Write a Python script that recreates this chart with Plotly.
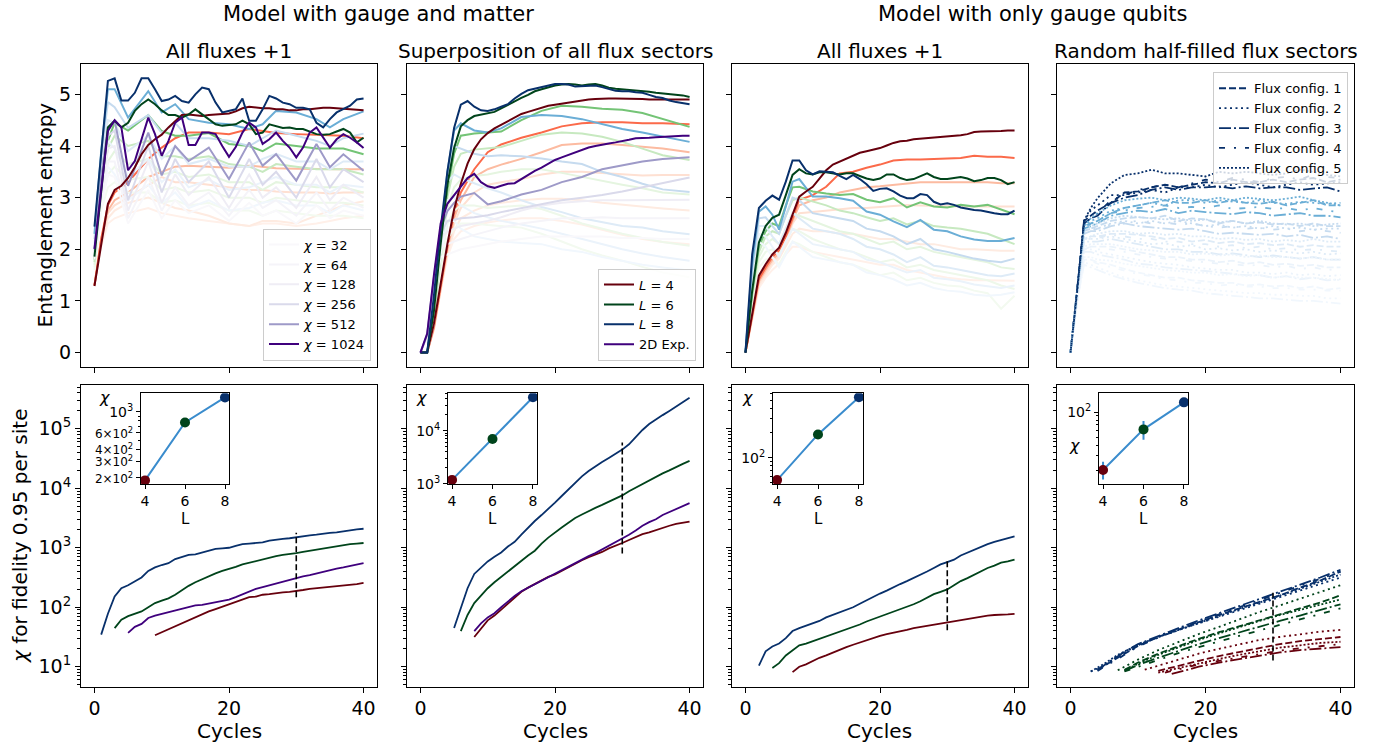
import plotly.graph_objects as go

W, H = 1390, 751
FONT = "DejaVu Sans"


def pxx(p):
    return p / W


def pxy(p):
    return 1 - p / H


# ---------------------------------------------------------------- data
CYCLES = list(range(41))
CHI = [32, 64, 128, 256, 512, 1024]
L_SIZES = [4, 6, 8]
FLUX_CONFIGS = [1, 2, 3, 4, 5]

# colour for chi = 32 ... 1024
REDS = ["#fff0e9", "#feebe1", "#fee0d2", "#fcbba1", "#fb6a4a", "#67000d"]
GREENS = ["#f3faf0", "#eef8ea", "#e5f5e0", "#c7e9c0", "#74c476", "#00441b"]
BLUES = ["#f1f7fd", "#ebf3fb", "#deebf7", "#c6dbef", "#6baed6", "#08306b"]
PURPLES = ["#f9f8fb", "#f5f4f9", "#efedf5", "#dadaeb", "#9e9ac8", "#3f007d"]
INSET_LINE = "#3a8ccd"

# ---- panel 1 (gauge + matter, all fluxes +1): entanglement entropy
X1 = [0, 1, 2, 3, 5, 8, 10, 12, 14, 17, 20, 23, 25, 27, 30, 33, 35, 37, 40]
P1_RED = [  # chi = 32, 64, 128, 256, 512 on X1
    [1.3, 2.05, 2.5, 2.6, 2.7, 2.8, 2.7, 2.65, 2.6, 2.55, 2.5, 2.45, 2.5, 2.5, 2.45, 2.5, 2.55, 2.6, 2.65],
    [1.3, 2.1, 2.6, 2.75, 2.9, 3.0, 2.9, 2.8, 2.75, 2.65, 2.5, 2.45, 2.55, 2.55, 2.5, 2.65, 2.75, 2.85, 2.93],
    [1.3, 2.15, 2.7, 2.85, 3.0, 3.25, 3.4, 3.3, 3.3, 3.25, 3.2, 3.15, 3.15, 3.12, 3.1, 3.1, 3.08, 3.1, 3.1],
    [1.3, 2.2, 2.75, 2.95, 3.1, 3.4, 3.5, 3.6, 3.62, 3.6, 3.58, 3.62, 3.6, 3.57, 3.56, 3.55, 3.55, 3.55, 3.55],
    [1.3, 2.2, 2.85, 3.1, 3.3, 3.75, 3.97, 4.15, 4.26, 4.26, 4.23, 4.33, 4.29, 4.25, 4.23, 4.22, 4.22, 4.2, 4.15],
]
P1_GREEN = [
    [1.6, 2.75, 3.2, 3.3, 3.1, 3.1, 2.9, 2.95, 2.85, 2.9, 2.75, 2.75, 2.65, 2.75, 2.7, 2.65, 2.65, 2.65, 2.6],
    [1.65, 2.9, 3.45, 3.6, 3.35, 3.4, 3.15, 3.2, 3.1, 3.15, 3.0, 3.0, 2.9, 3.0, 2.95, 2.9, 2.9, 2.9, 2.85],
    [1.7, 3.0, 3.7, 3.9, 3.65, 3.75, 3.45, 3.5, 3.4, 3.45, 3.3, 3.3, 3.15, 3.3, 3.25, 3.2, 3.2, 3.2, 3.1],
    [1.75, 3.2, 3.95, 4.2, 4.0, 4.1, 3.8, 3.8, 3.75, 3.8, 3.65, 3.6, 3.5, 3.65, 3.6, 3.55, 3.55, 3.55, 3.45],
    [1.8, 3.3, 4.1, 4.45, 4.3, 4.6, 4.29, 4.2, 4.2, 4.25, 4.04, 4.0, 3.9, 4.05, 4.0, 3.95, 3.95, 3.95, 3.84],
]
P1_BLUE = [
    [1.9, 3.0, 3.6, 3.45, 2.95, 3.25, 2.9, 3.1, 2.8, 2.95, 2.75, 2.8, 2.9, 2.95, 2.85, 2.85, 2.7, 2.85, 2.75],
    [2.0, 3.3, 4.1, 3.95, 3.4, 3.75, 3.3, 3.55, 3.2, 3.35, 3.15, 3.2, 3.3, 3.4, 3.25, 3.25, 3.1, 3.25, 3.2],
    [2.1, 3.6, 4.5, 4.45, 3.9, 4.2, 3.75, 4.0, 3.65, 3.75, 3.6, 3.6, 3.75, 3.85, 3.7, 3.7, 3.55, 3.7, 3.7],
    [2.2, 3.8, 4.85, 4.75, 4.35, 4.6, 4.25, 4.45, 4.15, 4.15, 4.1, 4.0, 4.15, 4.3, 4.2, 4.1, 4.0, 4.15, 4.24],
    [2.3, 3.9, 5.1, 5.1, 4.55, 5.06, 4.65, 4.81, 4.52, 4.45, 4.42, 4.33, 4.42, 4.68, 4.65, 4.52, 4.36, 4.52, 4.67],
]
P1_PURPLE = [
    [1.8, 2.8, 3.45, 3.4, 2.5, 3.15, 2.6, 2.95, 2.7, 2.85, 2.55, 2.9, 2.65, 2.75, 2.5, 2.85, 2.6, 2.75, 2.65],
    [1.85, 2.95, 3.7, 3.7, 2.6, 3.4, 2.75, 3.2, 2.85, 3.1, 2.65, 3.15, 2.8, 2.95, 2.65, 3.1, 2.75, 3.0, 2.8],
    [1.9, 3.1, 3.95, 4.0, 2.75, 3.7, 2.9, 3.45, 3.05, 3.4, 2.8, 3.45, 3.0, 3.2, 2.8, 3.4, 2.95, 3.25, 3.0],
    [1.95, 3.3, 4.2, 4.3, 2.95, 4.0, 3.1, 3.75, 3.3, 3.7, 3.0, 3.75, 3.25, 3.5, 3.0, 3.75, 3.2, 3.55, 3.3],
    [2.0, 3.4, 4.36, 4.49, 3.23, 4.26, 3.43, 4.0, 3.71, 3.97, 3.36, 4.07, 3.62, 3.84, 3.33, 4.04, 3.59, 3.84, 3.52],
]
P1_RED_1024 = [1.29, 2.08, 2.88, 3.15, 3.23, 3.38, 3.59, 3.84, 4.02, 4.13, 4.22, 4.36, 4.49, 4.6, 4.61,
               4.6, 4.58, 4.6, 4.61, 4.61, 4.63, 4.67, 4.73, 4.76, 4.74, 4.73, 4.73, 4.71, 4.71, 4.69,
               4.69, 4.71, 4.71, 4.73, 4.74, 4.74, 4.73, 4.71, 4.71, 4.69, 4.69]
P1_GREEN_1024 = [1.86, 3.11, 4.36, 4.49, 4.36, 4.45, 4.68, 4.81, 4.9, 4.81, 4.69, 4.6, 4.6, 4.55, 4.61,
                 4.71, 4.61, 4.52, 4.42, 4.39, 4.41, 4.42, 4.49, 4.42, 4.23, 4.26, 4.42, 4.39, 4.35, 4.36,
                 4.33, 4.33, 4.28, 4.23, 4.22, 4.23, 4.28, 4.33, 4.26, 4.07, 4.16]
P1_BLUE_1024 = [2.44, 3.85, 5.26, 5.31, 4.88, 4.88, 5.03, 5.31, 5.31, 5.1, 4.87, 4.9, 4.97, 4.87, 4.84,
                5.0, 5.13, 5.1, 4.84, 4.65, 4.68, 4.71, 4.92, 4.49, 4.49, 4.71, 4.97, 4.92, 4.84, 4.81,
                4.74, 4.74, 4.71, 4.45, 4.36, 4.52, 4.65, 4.71, 4.78, 4.9, 4.92]
P1_PURPLE_1024 = [2.01, 3.15, 4.29, 4.5, 4.36, 3.53, 3.71, 4.13, 4.55, 4.23, 3.81, 4.1, 4.45, 4.55, 4.02,
                  4.02, 4.26, 4.26, 4.23, 4.0, 3.79, 3.98, 4.26, 4.45, 4.36, 4.04, 4.13, 4.26, 4.1, 3.97,
                  3.78, 3.97, 4.26, 4.36, 4.16, 3.97, 4.13, 4.23, 4.16, 4.07, 3.96]

# ---- panel 2 (gauge + matter, superposition of all flux sectors)
X2 = [0, 1, 2, 3, 4, 5, 6, 8, 10, 12, 15, 18, 21, 24, 27, 30, 33, 36, 40]
P2_RED = [
    [0, 0, 0.44, 1.2, 1.85, 2.2, 2.35, 2.45, 2.52, 2.56, 2.6, 2.6, 2.55, 2.48, 2.38, 2.28, 2.2, 2.14, 2.1],
    [0, 0, 0.45, 1.22, 1.9, 2.35, 2.6, 2.75, 2.85, 2.9, 2.95, 2.98, 2.98, 2.95, 2.9, 2.86, 2.82, 2.79, 2.75],
    [0, 0, 0.46, 1.25, 1.95, 2.5, 2.8, 3.1, 3.25, 3.3, 3.36, 3.45, 3.5, 3.5, 3.48, 3.45, 3.43, 3.44, 3.44],
    [0, 0, 0.48, 1.27, 2.0, 2.6, 2.95, 3.4, 3.55, 3.64, 3.75, 3.88, 4.02, 4.05, 4.05, 4.02, 3.98, 3.95, 3.88],
    [0, 0, 0.5, 1.3, 2.05, 2.7, 3.1, 3.55, 3.88, 4.03, 4.16, 4.26, 4.38, 4.44, 4.46, 4.46, 4.44, 4.44, 4.42],
]
P2_GREEN = [
    [0, 0, 0.55, 1.6, 2.2, 2.4, 2.5, 2.5, 2.47, 2.45, 2.42, 2.3, 2.15, 2.0, 1.88, 1.78, 1.66, 1.55, 1.46],
    [0, 0, 0.6, 1.7, 2.5, 2.75, 2.85, 2.85, 2.8, 2.82, 2.85, 2.78, 2.65, 2.5, 2.4, 2.3, 2.22, 2.14, 2.07],
    [0, 0, 0.65, 1.8, 2.8, 3.2, 3.35, 3.42, 3.45, 3.5, 3.55, 3.55, 3.48, 3.4, 3.32, 3.25, 3.18, 3.1, 3.06],
    [0, 0, 0.7, 1.9, 3.0, 3.6, 3.85, 3.93, 3.95, 3.98, 4.1, 4.22, 4.26, 4.24, 4.18, 4.08, 3.95, 3.82, 3.73],
    [0, 0, 0.75, 2.0, 3.15, 3.85, 4.2, 4.24, 4.26, 4.28, 4.5, 4.68, 4.78, 4.76, 4.72, 4.7, 4.64, 4.52, 4.37],
]
P2_BLUE = [
    [0, 0, 0.8, 1.9, 2.55, 2.55, 2.4, 2.25, 2.2, 2.15, 2.12, 2.1, 2.0, 1.95, 1.85, 1.78, 1.7, 1.65, 1.59],
    [0, 0, 0.85, 2.0, 2.95, 3.0, 2.85, 2.7, 2.62, 2.55, 2.48, 2.4, 2.3, 2.2, 2.1, 2.0, 1.92, 1.85, 1.78],
    [0, 0, 0.9, 2.1, 3.3, 3.45, 3.38, 3.28, 3.18, 3.1, 2.95, 2.82, 2.72, 2.6, 2.52, 2.45, 2.42, 2.35, 2.29],
    [0, 0, 0.95, 2.2, 3.4, 4.0, 3.95, 3.85, 3.8, 3.82, 3.8, 3.76, 3.7, 3.65, 3.5, 3.4, 3.27, 3.16, 3.11],
    [0, 0, 1.0, 2.3, 3.5, 4.3, 4.44, 4.3, 4.26, 4.34, 4.56, 4.6, 4.58, 4.52, 4.42, 4.33, 4.26, 4.18, 4.08],
]
P2_PURPLE = [
    [0, 0.3, 1.2, 1.85, 1.9, 1.95, 2.0, 2.05, 2.1, 2.15, 2.2, 2.25, 2.25, 2.25, 2.25, 2.22, 2.22, 2.2, 2.2],
    [0, 0.32, 1.3, 2.05, 2.1, 2.15, 2.2, 2.28, 2.35, 2.42, 2.5, 2.55, 2.6, 2.6, 2.62, 2.6, 2.6, 2.6, 2.6],
    [0, 0.33, 1.35, 2.2, 2.35, 2.4, 2.45, 2.5, 2.55, 2.62, 2.75, 2.85, 2.9, 2.93, 2.95, 2.95, 2.95, 2.96, 2.96],
    [0, 0.34, 1.4, 2.3, 2.55, 2.58, 2.6, 2.62, 2.66, 2.72, 2.8, 2.88, 2.95, 3.0, 3.05, 3.12, 3.2, 3.28, 3.39],
    [0, 0.35, 1.45, 2.4, 2.74, 2.9, 3.02, 3.09, 2.87, 2.93, 3.06, 3.15, 3.3, 3.4, 3.55, 3.63, 3.7, 3.75, 3.78],
]
P2_RED_1024 = [0, 0, 0.56, 1.33, 2.1, 2.77, 3.27, 3.66, 3.94, 4.13, 4.25, 4.34, 4.41, 4.48, 4.56, 4.62,
               4.66, 4.7, 4.74, 4.78, 4.8, 4.82, 4.85, 4.87, 4.88, 4.9, 4.91, 4.92, 4.92, 4.92, 4.92,
               4.92, 4.92, 4.91, 4.9, 4.9, 4.9, 4.9, 4.9, 4.9, 4.9]
P2_GREEN_1024 = [0, 0, 0.8, 2.1, 3.25, 3.96, 4.38, 4.5, 4.58, 4.61, 4.63, 4.66, 4.73, 4.8, 4.86, 4.93,
                 4.99, 5.06, 5.1, 5.14, 5.17, 5.19, 5.2, 5.19, 5.17, 5.19, 5.2, 5.17, 5.13, 5.11, 5.1,
                 5.08, 5.08, 5.07, 5.05, 5.03, 5.02, 5.0, 4.99, 4.98, 4.95]
P2_BLUE_1024 = [0, 0, 1.1, 2.4, 3.5, 4.35, 4.8, 4.87, 4.76, 4.69, 4.68, 4.71, 4.76, 4.81, 4.92, 5.01,
                5.08, 5.11, 5.14, 5.17, 5.2, 5.2, 5.19, 5.15, 5.16, 5.17, 5.17, 5.14, 5.1, 5.07, 5.06,
                5.06, 5.04, 5.03, 4.99, 4.95, 4.93, 4.88, 4.85, 4.83, 4.81]
P2_PURPLE_1024 = [0, 0.37, 1.5, 2.5, 2.88, 3.05, 3.2, 3.38, 3.46, 3.3, 3.22, 3.19, 3.23, 3.27, 3.28,
                  3.36, 3.45, 3.52, 3.58, 3.66, 3.73, 3.78, 3.83, 3.88, 3.93, 3.97, 4.0, 4.03, 4.05,
                  4.07, 4.09, 4.12, 4.15, 4.15, 4.16, 4.17, 4.18, 4.18, 4.19, 4.2, 4.2]

# ---- panel 3 (only gauge qubits, all fluxes +1)
X3 = [0, 1, 2, 3, 4, 5, 6, 7, 8, 10, 12, 14, 16, 18, 20, 22, 24, 26, 28, 30, 32, 34, 36, 38, 40]
P3_RED = [
    [0, 0.64, 1.25, 1.45, 1.6, 1.72, 1.9, 2.05, 2.05, 1.95, 1.9, 1.85, 1.8, 1.75, 1.7, 1.7, 1.6, 1.55, 1.5, 1.45, 1.42, 1.4, 1.4, 1.4, 1.39],
    [0, 0.66, 1.3, 1.5, 1.7, 1.82, 2.05, 2.3, 2.4, 2.35, 2.35, 2.3, 2.3, 2.25, 2.2, 2.2, 2.15, 2.1, 2.1, 2.05, 2.0, 2.0, 1.98, 1.97, 1.97],
    [0, 0.68, 1.34, 1.55, 1.75, 1.87, 2.15, 2.5, 2.7, 2.72, 2.75, 2.78, 2.8, 2.8, 2.82, 2.85, 2.86, 2.85, 2.84, 2.84, 2.83, 2.83, 2.83, 2.83, 2.83],
    [0, 0.7, 1.38, 1.6, 1.8, 1.92, 2.2, 2.55, 2.85, 2.95, 3.0, 3.1, 3.15, 3.2, 3.22, 3.25, 3.28, 3.3, 3.3, 3.3, 3.3, 3.3, 3.3, 3.28, 3.28],
    [0, 0.72, 1.42, 1.65, 1.85, 1.98, 2.25, 2.6, 2.96, 3.05, 3.21, 3.47, 3.5, 3.58, 3.64, 3.72, 3.74, 3.74, 3.75, 3.77, 3.77, 3.81, 3.79, 3.79, 3.77],
]
P3_GREEN = [
    [0, 0.95, 1.65, 1.8, 1.85, 1.7, 1.95, 2.15, 2.1, 1.95, 1.85, 1.75, 1.7, 1.6, 1.5, 1.55, 1.4, 1.45, 1.35, 1.3, 1.28, 1.2, 1.15, 0.85, 1.1],
    [0, 1.0, 1.75, 1.95, 2.0, 1.9, 2.15, 2.4, 2.35, 2.2, 2.1, 2.0, 1.95, 1.85, 1.75, 1.8, 1.65, 1.7, 1.6, 1.55, 1.5, 1.45, 1.4, 1.3, 1.23],
    [0, 1.05, 1.85, 2.1, 2.2, 2.1, 2.4, 2.7, 2.65, 2.55, 2.45, 2.35, 2.3, 2.2, 2.1, 2.15, 2.0, 2.05, 1.95, 1.9, 1.85, 1.8, 1.75, 1.65, 1.62],
    [0, 1.1, 1.95, 2.25, 2.35, 2.3, 2.65, 2.95, 3.0, 2.92, 2.85, 2.75, 2.7, 2.62, 2.55, 2.6, 2.48, 2.55, 2.45, 2.42, 2.4, 2.35, 2.3, 2.2, 2.1],
    [0, 1.15, 2.05, 2.35, 2.5, 2.45, 2.85, 3.2, 3.21, 3.12, 3.08, 3.05, 3.07, 2.96, 2.91, 2.99, 2.81, 2.91, 2.83, 2.81, 2.86, 2.83, 2.86, 2.77, 2.68],
]
P3_BLUE = [
    [0, 1.3, 2.15, 2.05, 1.85, 1.65, 1.9, 2.15, 2.05, 1.85, 1.8, 1.75, 1.7, 1.55, 1.5, 1.42, 1.3, 1.35, 1.25, 1.2, 1.18, 1.12, 1.1, 1.12, 1.17],
    [0, 1.4, 2.3, 2.25, 2.05, 1.85, 2.15, 2.4, 2.3, 2.1, 2.05, 2.0, 1.95, 1.8, 1.75, 1.65, 1.55, 1.6, 1.45, 1.42, 1.38, 1.32, 1.28, 1.25, 1.3],
    [0, 1.5, 2.45, 2.45, 2.25, 2.1, 2.4, 2.7, 2.6, 2.4, 2.35, 2.3, 2.2, 2.05, 2.0, 1.9, 1.75, 1.85, 1.68, 1.65, 1.6, 1.55, 1.5, 1.48, 1.53],
    [0, 1.6, 2.6, 2.62, 2.45, 2.3, 2.65, 3.0, 2.95, 2.7, 2.65, 2.6, 2.55, 2.4, 2.35, 2.25, 2.1, 2.2, 2.0, 1.95, 1.88, 1.82, 1.78, 1.75, 1.82],
    [0, 1.71, 2.73, 2.83, 2.67, 2.38, 2.83, 3.31, 3.36, 3.02, 3.02, 2.99, 2.94, 2.73, 2.67, 2.54, 2.43, 2.57, 2.38, 2.35, 2.25, 2.19, 2.16, 2.16, 2.22],
]
P3_RED_1024 = [0, 0.75, 1.49, 1.71, 1.9, 2.03, 2.32, 2.67, 3.02, 3.12, 3.21, 3.37, 3.53, 3.64, 3.7,
               3.75, 3.82, 3.87, 3.9, 3.93, 3.96, 4.01, 4.06, 4.09, 4.1, 4.13, 4.14, 4.15, 4.16, 4.18,
               4.19, 4.2, 4.21, 4.23, 4.27, 4.28, 4.28, 4.29, 4.29, 4.3, 4.3]
P3_GREEN_1024 = [0, 1.2, 2.13, 2.45, 2.61, 2.67, 3.05, 3.44, 3.55, 3.47, 3.45, 3.49, 3.49, 3.47, 3.45,
                 3.47, 3.47, 3.42, 3.37, 3.34, 3.37, 3.45, 3.45, 3.38, 3.34, 3.36, 3.42, 3.47, 3.4, 3.36,
                 3.36, 3.38, 3.4, 3.37, 3.32, 3.34, 3.38, 3.38, 3.34, 3.26, 3.3]
P3_BLUE_1024 = [0, 1.9, 2.8, 2.94, 3.04, 2.96, 3.31, 3.72, 3.72, 3.53, 3.45, 3.51, 3.5, 3.49, 3.42,
                3.36, 3.44, 3.36, 3.26, 3.13, 3.17, 3.18, 3.12, 3.04, 2.99, 2.99, 3.07, 3.05, 2.92, 2.87,
                2.89, 2.86, 2.81, 2.78, 2.76, 2.75, 2.72, 2.7, 2.68, 2.68, 2.75]

# ---- panel 4 (only gauge qubits, random half-filled flux sectors), L = 8, chi = 32 ... 1024
X4 = [0, 1, 2, 3, 4, 6, 8, 10, 12, 14, 16, 18, 20, 22, 24, 26, 28, 30, 32, 34, 36, 38, 40]
P4_CONFIG1 = [
    [0, 1.0, 1.8, 1.8, 1.75, 1.7, 1.62, 1.55, 1.5, 1.45, 1.45, 1.4, 1.38, 1.35, 1.35, 1.3, 1.32, 1.28, 1.3, 1.25, 1.28, 1.22, 1.25],
    [0, 1.05, 2.0, 2.05, 2.05, 2.05, 2.0, 1.95, 1.9, 1.85, 1.85, 1.8, 1.8, 1.75, 1.78, 1.72, 1.75, 1.7, 1.72, 1.68, 1.7, 1.65, 1.65],
    [0, 1.1, 2.2, 2.25, 2.25, 2.3, 2.3, 2.28, 2.25, 2.2, 2.22, 2.15, 2.18, 2.12, 2.15, 2.1, 2.12, 2.08, 2.1, 2.05, 2.08, 2.05, 2.05],
    [0, 1.15, 2.35, 2.4, 2.45, 2.55, 2.6, 2.62, 2.6, 2.65, 2.55, 2.6, 2.58, 2.5, 2.55, 2.5, 2.52, 2.48, 2.5, 2.45, 2.5, 2.45, 2.45],
    [0, 1.2, 2.45, 2.5, 2.55, 2.7, 2.8, 2.85, 2.9, 2.95, 2.9, 2.9, 2.95, 2.9, 2.95, 2.9, 2.88, 2.92, 2.85, 2.9, 2.95, 2.85, 2.85],
    [0, 1.2, 2.55, 2.65, 2.75, 2.9, 3.1, 3.12, 3.2, 3.25, 3.2, 3.25, 3.3, 3.28, 3.35, 3.3, 3.3, 3.35, 3.3, 3.35, 3.38, 3.3, 3.35],
]
P4_CONFIG2 = [
    [0, 1.0, 1.75, 1.7, 1.65, 1.55, 1.45, 1.4, 1.35, 1.3, 1.28, 1.25, 1.22, 1.2, 1.18, 1.15, 1.15, 1.12, 1.12, 1.1, 1.1, 1.05, 1.05],
    [0, 1.05, 2.0, 2.0, 1.95, 1.9, 1.85, 1.8, 1.75, 1.72, 1.7, 1.65, 1.62, 1.6, 1.6, 1.55, 1.55, 1.52, 1.55, 1.5, 1.52, 1.48, 1.5],
    [0, 1.1, 2.2, 2.2, 2.2, 2.25, 2.2, 2.15, 2.1, 2.12, 2.05, 2.08, 2.0, 2.02, 1.98, 2.0, 1.95, 1.98, 1.95, 1.92, 1.95, 1.9, 1.92],
    [0, 1.15, 2.35, 2.4, 2.4, 2.5, 2.55, 2.5, 2.55, 2.5, 2.55, 2.5, 2.45, 2.48, 2.42, 2.45, 2.4, 2.45, 2.4, 2.42, 2.38, 2.4, 2.4],
    [0, 1.2, 2.45, 2.55, 2.6, 2.75, 2.8, 2.85, 2.9, 2.85, 2.95, 2.95, 2.9, 2.95, 2.92, 2.9, 2.95, 2.9, 2.88, 2.92, 2.9, 2.88, 2.9],
    [0, 1.2, 2.55, 2.75, 2.85, 3.05, 3.05, 3.1, 3.15, 3.1, 3.2, 3.2, 3.25, 3.2, 3.25, 3.3, 3.25, 3.2, 3.25, 3.3, 3.25, 3.28, 3.3],
]
P4_CONFIG3 = [
    [0, 1.0, 1.7, 1.65, 1.6, 1.5, 1.42, 1.35, 1.3, 1.25, 1.22, 1.2, 1.15, 1.12, 1.1, 1.08, 1.05, 1.05, 1.02, 1.0, 1.0, 0.98, 0.95],
    [0, 1.05, 1.95, 1.95, 1.9, 1.85, 1.8, 1.72, 1.7, 1.65, 1.62, 1.6, 1.58, 1.55, 1.52, 1.5, 1.5, 1.45, 1.48, 1.42, 1.45, 1.4, 1.42],
    [0, 1.1, 2.15, 2.15, 2.15, 2.2, 2.15, 2.1, 2.05, 2.0, 2.0, 1.95, 1.95, 1.9, 1.92, 1.88, 1.85, 1.88, 1.85, 1.82, 1.85, 1.8, 1.8],
    [0, 1.15, 2.3, 2.35, 2.35, 2.45, 2.5, 2.45, 2.42, 2.4, 2.38, 2.4, 2.35, 2.3, 2.32, 2.3, 2.28, 2.3, 2.25, 2.28, 2.22, 2.25, 2.2],
    [0, 1.2, 2.4, 2.45, 2.5, 2.65, 2.7, 2.75, 2.72, 2.78, 2.7, 2.75, 2.72, 2.7, 2.68, 2.72, 2.7, 2.65, 2.68, 2.7, 2.65, 2.65, 2.62],
    [0, 1.2, 2.5, 2.6, 2.65, 2.9, 3.0, 3.05, 3.15, 3.2, 3.15, 3.2, 3.2, 3.22, 3.18, 3.22, 3.18, 3.2, 3.2, 3.15, 3.18, 3.2, 3.12],
]
P4_CONFIG4 = [
    [0, 1.0, 1.8, 1.78, 1.72, 1.65, 1.58, 1.52, 1.48, 1.42, 1.4, 1.35, 1.35, 1.3, 1.32, 1.28, 1.28, 1.25, 1.25, 1.22, 1.22, 1.2, 1.2],
    [0, 1.05, 2.0, 2.05, 2.0, 2.0, 1.95, 1.9, 1.85, 1.82, 1.8, 1.78, 1.75, 1.72, 1.72, 1.68, 1.7, 1.65, 1.68, 1.62, 1.65, 1.6, 1.62],
    [0, 1.1, 2.2, 2.2, 2.22, 2.28, 2.25, 2.2, 2.2, 2.15, 2.15, 2.1, 2.1, 2.05, 2.08, 2.02, 2.05, 2.0, 2.02, 1.98, 2.0, 1.98, 1.95],
    [0, 1.15, 2.3, 2.35, 2.4, 2.48, 2.52, 2.55, 2.5, 2.52, 2.48, 2.5, 2.45, 2.42, 2.45, 2.4, 2.42, 2.38, 2.4, 2.35, 2.38, 2.35, 2.32],
    [0, 1.2, 2.4, 2.5, 2.55, 2.7, 2.75, 2.8, 2.82, 2.85, 2.8, 2.82, 2.8, 2.85, 2.78, 2.8, 2.82, 2.78, 2.8, 2.75, 2.8, 2.75, 2.72],
    [0, 1.2, 2.5, 2.6, 2.7, 2.95, 3.05, 3.15, 3.2, 3.25, 3.2, 3.28, 3.35, 3.3, 3.38, 3.35, 3.3, 3.38, 3.4, 3.35, 3.45, 3.4, 3.38],
]
P4_CONFIG5 = [
    [0, 1.0, 1.85, 1.85, 1.8, 1.78, 1.72, 1.68, 1.65, 1.6, 1.58, 1.55, 1.55, 1.5, 1.52, 1.48, 1.5, 1.45, 1.48, 1.45, 1.45, 1.42, 1.4],
    [0, 1.05, 2.05, 2.1, 2.1, 2.1, 2.05, 2.0, 1.98, 1.95, 1.95, 1.9, 1.92, 1.88, 1.9, 1.85, 1.88, 1.85, 1.85, 1.82, 1.85, 1.8, 1.8],
    [0, 1.1, 2.2, 2.25, 2.3, 2.35, 2.35, 2.3, 2.32, 2.28, 2.3, 2.25, 2.25, 2.2, 2.22, 2.18, 2.2, 2.15, 2.18, 2.15, 2.2, 2.15, 2.15],
    [0, 1.15, 2.35, 2.45, 2.5, 2.6, 2.65, 2.62, 2.6, 2.58, 2.6, 2.55, 2.58, 2.52, 2.55, 2.5, 2.55, 2.5, 2.48, 2.5, 2.45, 2.48, 2.5],
    [0, 1.2, 2.45, 2.6, 2.7, 2.85, 2.95, 2.98, 3.0, 2.95, 3.0, 2.98, 2.95, 3.0, 2.95, 3.0, 2.98, 2.95, 2.98, 3.02, 2.95, 2.9, 2.85],
    [0, 1.2, 2.55, 2.8, 2.99, 3.28, 3.44, 3.47, 3.54, 3.47, 3.47, 3.44, 3.41, 3.5, 3.47, 3.5, 3.47, 3.44, 3.47, 3.54, 3.5, 3.44, 3.41],
]

# ---- bottom row: log10(chi) needed for fidelity 0.95 per site
B1_RED_X = list(range(9, 41))
B1_RED = [1.53, 1.58, 1.63, 1.68, 1.74, 1.79, 1.84, 1.89, 1.93, 1.97, 2.01, 2.05, 2.09, 2.13, 2.17, 2.18,
          2.21, 2.22, 2.24, 2.25, 2.26, 2.27, 2.29, 2.31, 2.32, 2.33, 2.34, 2.36, 2.37, 2.38, 2.39, 2.41]
B1_GREEN_X = list(range(3, 41))
B1_GREEN = [1.65, 1.79, 1.85, 1.89, 1.93, 2.0, 2.07, 2.11, 2.15, 2.21, 2.29, 2.36, 2.42, 2.47, 2.53,
            2.57, 2.61, 2.64, 2.68, 2.72, 2.75, 2.78, 2.81, 2.83, 2.86, 2.88, 2.89, 2.91, 2.93, 2.95,
            2.97, 2.99, 3.01, 3.02, 3.04, 3.06, 3.07, 3.08]
B1_BLUE_X = list(range(1, 41))
B1_BLUE = [1.54, 1.89, 2.18, 2.32, 2.37, 2.43, 2.5, 2.61, 2.67, 2.71, 2.74, 2.81, 2.85, 2.88, 2.89,
           2.92, 2.96, 2.98, 2.99, 3.0, 3.03, 3.06, 3.07, 3.08, 3.09, 3.12, 3.14, 3.15, 3.16, 3.18,
           3.19, 3.21, 3.22, 3.24, 3.25, 3.26, 3.28, 3.29, 3.31, 3.32]
B1_PURPLE_X = list(range(5, 41))
B1_PURPLE = [1.57, 1.67, 1.72, 1.82, 1.86, 1.89, 1.92, 1.94, 1.98, 2.01, 2.03, 2.04, 2.06, 2.08, 2.11,
             2.13, 2.17, 2.22, 2.27, 2.31, 2.34, 2.37, 2.41, 2.44, 2.47, 2.49, 2.52, 2.54, 2.57, 2.6,
             2.63, 2.65, 2.67, 2.69, 2.72, 2.74]

B2_RED_X = list(range(8, 41))
B2_RED = [1.5, 1.65, 1.78, 1.86, 1.96, 2.06, 2.17, 2.26, 2.33, 2.39, 2.45, 2.51, 2.55, 2.61, 2.68, 2.74,
          2.79, 2.84, 2.88, 2.93, 2.99, 3.03, 3.08, 3.13, 3.18, 3.23, 3.26, 3.3, 3.34, 3.37, 3.4, 3.42, 3.44]
B2_GREEN_X = list(range(6, 41))
B2_GREEN = [1.6, 1.87, 2.07, 2.2, 2.32, 2.42, 2.51, 2.6, 2.7, 2.79, 2.87, 2.95, 3.07, 3.17, 3.26, 3.34,
            3.42, 3.5, 3.56, 3.62, 3.67, 3.72, 3.77, 3.83, 3.88, 3.95, 4.01, 4.08, 4.13, 4.19, 4.25,
            4.3, 4.36, 4.41, 4.46]
B2_BLUE_X = list(range(5, 41))
B2_BLUE = [1.65, 2.0, 2.32, 2.56, 2.67, 2.77, 2.85, 2.92, 3.02, 3.1, 3.22, 3.34, 3.45, 3.55, 3.65, 3.76,
           3.87, 3.98, 4.1, 4.2, 4.29, 4.37, 4.44, 4.51, 4.58, 4.65, 4.74, 4.86, 4.98, 5.08, 5.16,
           5.23, 5.3, 5.37, 5.44, 5.52]
B2_PURPLE_X = list(range(8, 41))
B2_PURPLE = [1.6, 1.73, 1.83, 1.9, 2.0, 2.1, 2.19, 2.27, 2.33, 2.39, 2.45, 2.51, 2.56, 2.62, 2.68, 2.74,
             2.8, 2.86, 2.91, 2.97, 3.03, 3.09, 3.15, 3.22, 3.29, 3.37, 3.43, 3.48, 3.55, 3.6, 3.65,
             3.7, 3.75]

B3_RED_X = list(range(7, 41))
B3_RED = [0.91, 1.0, 1.04, 1.1, 1.15, 1.19, 1.24, 1.28, 1.33, 1.37, 1.41, 1.45, 1.48, 1.52, 1.55, 1.57,
          1.6, 1.62, 1.65, 1.67, 1.69, 1.71, 1.73, 1.74, 1.77, 1.79, 1.81, 1.83, 1.84, 1.86, 1.87,
          1.87, 1.88, 1.89]
B3_GREEN_X = list(range(4, 41))
B3_GREEN = [0.98, 1.06, 1.19, 1.28, 1.36, 1.39, 1.43, 1.47, 1.5, 1.54, 1.58, 1.62, 1.66, 1.71, 1.76,
            1.8, 1.84, 1.88, 1.93, 1.97, 2.0, 2.05, 2.1, 2.16, 2.22, 2.26, 2.3, 2.37, 2.44, 2.49,
            2.55, 2.6, 2.66, 2.7, 2.75, 2.77, 2.8]
B3_BLUE_X = list(range(2, 41))
B3_BLUE = [1.02, 1.26, 1.34, 1.39, 1.48, 1.6, 1.65, 1.69, 1.73, 1.77, 1.83, 1.87, 1.91, 1.95, 2.0,
           2.06, 2.12, 2.17, 2.23, 2.28, 2.34, 2.39, 2.44, 2.49, 2.55, 2.6, 2.66, 2.72, 2.76, 2.8,
           2.87, 2.92, 2.97, 3.02, 3.06, 3.1, 3.13, 3.16, 3.19]

# panel 4 bottom: five flux configurations for each L
B4_RED_X = [[13, 16, 19, 22, 25, 28, 31, 34, 37, 40],
            [11, 13, 16, 19, 22, 25, 28, 31, 34, 37, 40],
            [15, 17, 19, 22, 25, 28, 31, 34, 37, 40],
            [14, 16, 19, 22, 25, 28, 31, 34, 37, 40],
            [13, 16, 19, 22, 25, 28, 31, 34, 37, 40]]
B4_RED = [[0.93, 1.02, 1.1, 1.18, 1.25, 1.32, 1.38, 1.43, 1.47, 1.5],
          [0.95, 1.02, 1.12, 1.22, 1.3, 1.38, 1.45, 1.5, 1.55, 1.59, 1.62],
          [0.88, 0.94, 1.0, 1.07, 1.13, 1.19, 1.24, 1.28, 1.31, 1.33],
          [0.9, 0.96, 1.04, 1.1, 1.16, 1.22, 1.27, 1.31, 1.35, 1.38],
          [0.9, 0.98, 1.06, 1.13, 1.2, 1.26, 1.32, 1.36, 1.4, 1.42]]
B4_GREEN_X = [[8, 10, 13, 16, 19, 22, 25, 28, 31, 34, 37, 40],
              [7, 10, 13, 16, 19, 22, 25, 28, 31, 34, 37, 40],
              [8, 10, 13, 16, 19, 22, 25, 28, 31, 34, 37, 40],
              [8, 10, 13, 16, 19, 22, 25, 28, 31, 34, 37, 40],
              [8, 10, 13, 16, 19, 22, 25, 28, 31, 34, 37, 40]]
B4_GREEN = [[0.95, 1.07, 1.22, 1.35, 1.47, 1.58, 1.68, 1.78, 1.88, 1.98, 2.08, 2.2],
            [0.94, 1.12, 1.28, 1.42, 1.55, 1.67, 1.8, 1.92, 2.03, 2.14, 2.25, 2.37],
            [0.93, 1.03, 1.15, 1.27, 1.38, 1.48, 1.58, 1.68, 1.77, 1.86, 1.96, 2.05],
            [0.92, 1.0, 1.12, 1.23, 1.33, 1.43, 1.52, 1.61, 1.7, 1.79, 1.88, 1.98],
            [0.94, 1.05, 1.2, 1.33, 1.45, 1.56, 1.67, 1.77, 1.87, 1.96, 2.05, 2.13]]
B4_BLUE_X = [[4, 6, 8, 10, 13, 16, 19, 22, 25, 28, 31, 34, 37, 40],
             [3, 5, 7, 10, 13, 16, 19, 22, 25, 28, 31, 34, 37, 40],
             [4, 6, 8, 10, 13, 16, 19, 22, 25, 28, 31, 34, 37, 40],
             [4, 6, 8, 10, 13, 16, 19, 22, 25, 28, 31, 34, 37, 40],
             [3, 5, 7, 10, 13, 16, 19, 22, 25, 28, 31, 34, 37, 40]]
B4_BLUE = [[0.95, 1.08, 1.22, 1.35, 1.5, 1.63, 1.75, 1.87, 1.98, 2.1, 2.2, 2.33, 2.45, 2.6],
           [0.92, 1.02, 1.18, 1.36, 1.5, 1.62, 1.73, 1.84, 1.95, 2.05, 2.16, 2.27, 2.38, 2.5],
           [0.95, 1.1, 1.25, 1.38, 1.52, 1.65, 1.78, 1.9, 2.02, 2.14, 2.25, 2.38, 2.5, 2.63],
           [0.93, 1.06, 1.2, 1.34, 1.49, 1.62, 1.76, 1.88, 2.0, 2.12, 2.23, 2.35, 2.48, 2.6],
           [0.92, 1.05, 1.2, 1.37, 1.5, 1.62, 1.74, 1.86, 1.97, 2.08, 2.19, 2.31, 2.43, 2.55]]

# vertical dashed marker at cycle 30 (chi range)
MARK_CYCLE = 30
MARK_RANGE = [[147, 1780], [800, 59000], [41, 600], [12.7, 176]]

# insets: chi at cycle 30 vs L
INSET_CHI = [[187, 770, 1420], [1190, 6980, 42200], [54, 192, 540], [20.2, 62, 131]]
INSET4_ERR_PLUS = [5.2, 16, 0]
INSET4_ERR_MINUS = [4.7, 15.6, 0]

DASHES = ["7px,3px", "2px,3.5px", "12px,3px,2px,3px", "6px,9px,2px,9px", "2px,2px"]

# ---------------------------------------------------------------- layout geometry (pixels)
COLS = [(81, 377), (407, 703), (732, 1028), (1057, 1354)]
TOP = (65, 370)
BOT = (389, 693)
INSETS = [(141, 229), (448, 537), (773, 863), (1099, 1188)]
INSET_Y = (397, 489)

fig = go.Figure()


def add_line(ax, x, y, color, width=2.0, dash=None, name="", legend=None):
    fig.add_trace(go.Scatter(
        x=x, y=y, mode="lines", xaxis="x" + ax, yaxis="y" + ax,
        line=dict(color=color, width=width, dash=dash),
        name=name, showlegend=legend is not None,
        legend=legend if legend else "legend", hoverinfo="skip"))


def pow10(vals):
    return [10 ** v for v in vals]


CHI_NAMES = ["<i>χ</i> = %d" % c for c in CHI]

# ---- panel 1
for fam, cols in [(P1_RED, REDS), (P1_GREEN, GREENS), (P1_BLUE, BLUES), (P1_PURPLE, PURPLES)]:
    for i, ys in enumerate(fam):
        leg = "legend" if cols is PURPLES else None
        add_line("", X1, ys, cols[i], name=CHI_NAMES[i], legend=leg)
add_line("", CYCLES, P1_RED_1024, REDS[5])
add_line("", CYCLES, P1_GREEN_1024, GREENS[5])
add_line("", CYCLES, P1_BLUE_1024, BLUES[5])
add_line("", CYCLES, P1_PURPLE_1024, PURPLES[5], name=CHI_NAMES[5], legend="legend")

# ---- panel 2
for fam, cols in [(P2_RED, REDS), (P2_GREEN, GREENS), (P2_BLUE, BLUES), (P2_PURPLE, PURPLES)]:
    for i, ys in enumerate(fam):
        add_line("2", X2, ys, cols[i])
add_line("2", CYCLES, P2_RED_1024, REDS[5], name="<i>L</i> = 4", legend="legend2")
add_line("2", CYCLES, P2_GREEN_1024, GREENS[5], name="<i>L</i> = 6", legend="legend2")
add_line("2", CYCLES, P2_BLUE_1024, BLUES[5], name="<i>L</i> = 8", legend="legend2")
add_line("2", CYCLES, P2_PURPLE_1024, PURPLES[5], name="2D Exp.", legend="legend2")

# ---- panel 3
for fam, cols in [(P3_RED, REDS), (P3_GREEN, GREENS), (P3_BLUE, BLUES)]:
    for i, ys in enumerate(fam):
        add_line("3", X3, ys, cols[i])
add_line("3", CYCLES, P3_RED_1024, REDS[5])
add_line("3", CYCLES, P3_GREEN_1024, GREENS[5])
add_line("3", CYCLES, P3_BLUE_1024, BLUES[5])

# ---- panel 4
P4 = [P4_CONFIG1, P4_CONFIG2, P4_CONFIG3, P4_CONFIG4, P4_CONFIG5]
for i in range(5):
    for k in range(6):
        add_line("4", X4, P4[i][k], BLUES[k], width=1.8, dash=DASHES[i],
                 name="Flux config. %d" % FLUX_CONFIGS[i] if k == 5 else "",
                 legend="legend3" if k == 5 else None)

# ---- bottom row
add_line("5", B1_RED_X, pow10(B1_RED), REDS[5], 1.8)
add_line("5", B1_GREEN_X, pow10(B1_GREEN), GREENS[5], 1.8)
add_line("5", B1_BLUE_X, pow10(B1_BLUE), BLUES[5], 1.8)
add_line("5", B1_PURPLE_X, pow10(B1_PURPLE), PURPLES[5], 1.8)
add_line("6", B2_RED_X, pow10(B2_RED), REDS[5], 1.8)
add_line("6", B2_GREEN_X, pow10(B2_GREEN), GREENS[5], 1.8)
add_line("6", B2_BLUE_X, pow10(B2_BLUE), BLUES[5], 1.8)
add_line("6", B2_PURPLE_X, pow10(B2_PURPLE), PURPLES[5], 1.8)
add_line("7", B3_RED_X, pow10(B3_RED), REDS[5], 1.8)
add_line("7", B3_GREEN_X, pow10(B3_GREEN), GREENS[5], 1.8)
add_line("7", B3_BLUE_X, pow10(B3_BLUE), BLUES[5], 1.8)
for i in range(5):
    add_line("8", B4_RED_X[i], pow10(B4_RED[i]), REDS[5], 1.8, DASHES[i])
    add_line("8", B4_GREEN_X[i], pow10(B4_GREEN[i]), GREENS[5], 1.8, DASHES[i])
    add_line("8", B4_BLUE_X[i], pow10(B4_BLUE[i]), BLUES[5], 1.8, DASHES[i])
for j, ax in enumerate(["5", "6", "7", "8"]):
    add_line(ax, [MARK_CYCLE, MARK_CYCLE], MARK_RANGE[j], "black", 1.6, "6px,3px")

# ---- insets
DARKS = [REDS[5], GREENS[5], BLUES[5]]
for j, ax in enumerate(["9", "10", "11", "12"]):
    err = None
    if j == 3:
        err = dict(type="data", symmetric=False, array=INSET4_ERR_PLUS,
                   arrayminus=INSET4_ERR_MINUS, color=INSET_LINE, thickness=2, width=0)
    fig.add_trace(go.Scatter(
        x=L_SIZES, y=INSET_CHI[j], mode="lines+markers", xaxis="x" + ax, yaxis="y" + ax,
        line=dict(color=INSET_LINE, width=2), marker=dict(color=DARKS, size=10),
        error_y=err, showlegend=False, hoverinfo="skip"))

# ---------------------------------------------------------------- axes
AXCOM = dict(showline=True, linecolor="black", linewidth=1, mirror=True, ticks="outside",
             ticklen=5, tickwidth=1, tickcolor="black", showgrid=False, zeroline=False,
             tickfont=dict(family=FONT, size=19, color="black"))

layout = {}


def minor_log(lo, hi):
    vals = []
    for e in range(-1, 7):
        for d in range(2, 10):
            v = d * 10 ** e
            if lo <= v <= hi:
                vals.append(v)
    return vals


for c in range(4):
    xd = [pxx(COLS[c][0]), pxx(COLS[c][1])]
    n_top = c + 1
    n_bot = c + 5
    kx = "xaxis" if n_top == 1 else "xaxis%d" % n_top
    ky = "yaxis" if n_top == 1 else "yaxis%d" % n_top
    anc = "y" if n_top == 1 else "y%d" % n_top
    ancx = "x" if n_top == 1 else "x%d" % n_top
    layout[kx] = dict(AXCOM, domain=xd, anchor=anc, range=[-2, 42], tickvals=[0, 20, 40],
                      showticklabels=False)
    layout[ky] = dict(AXCOM, domain=[pxy(TOP[1]), pxy(TOP[0])], anchor=ancx, range=[-0.27, 5.58],
                      tickvals=[0, 1, 2, 3, 4, 5], showticklabels=(c == 0))
    layout["xaxis%d" % n_bot] = dict(AXCOM, domain=xd, anchor="y%d" % n_bot, range=[-2, 42],
                                     tickvals=[0, 20, 40])
    layout["yaxis%d" % n_bot] = dict(
        AXCOM, domain=[pxy(BOT[1]), pxy(BOT[0])], anchor="x%d" % n_bot, type="log",
        range=[0.667, 5.73], tickvals=[10, 100, 1000, 10000, 100000],
        ticktext=["10<sup>%d</sup>" % k for k in range(1, 6)], showticklabels=(c == 0),
        minor=dict(tickmode="array", tickvals=minor_log(4, 600000), ticks="outside",
                   ticklen=3, tickwidth=0.8, tickcolor="black"))

INSET_YRANGE = [[2.229, 3.196], [2.99, 4.70], [1.68, 2.78], [1.131, 2.226]]
SM = '<span style="font-size:12px">%s</span>'
INSET_TICKS = [
    ([200, 300, 400, 600, 1000],
     [SM % "2×10<sup>2</sup>", SM % "3×10<sup>2</sup>", SM % "4×10<sup>2</sup>", SM % "6×10<sup>2</sup>",
      "10<sup>3</sup>"]),
    ([1000, 10000], ["10<sup>3</sup>", "10<sup>4</sup>"]),
    ([100], ["10<sup>2</sup>"]),
    ([100], ["10<sup>2</sup>"]),
]
INCOM = dict(AXCOM, ticklen=4, tickfont=dict(family=FONT, size=14, color="black"))
for j in range(4):
    n = 9 + j
    lo, hi = INSET_YRANGE[j]
    tv, tt = INSET_TICKS[j]
    minor_vals = [v for v in minor_log(10 ** lo, 10 ** hi) if v not in tv]
    layout["xaxis%d" % n] = dict(INCOM, domain=[pxx(INSETS[j][0]), pxx(INSETS[j][1])],
                                 anchor="y%d" % n, range=[3.8, 8.2], tickvals=[4, 6, 8])
    layout["yaxis%d" % n] = dict(INCOM, domain=[pxy(INSET_Y[1]), pxy(INSET_Y[0])],
                                 anchor="x%d" % n, type="log", range=[lo, hi], tickvals=tv,
                                 ticktext=tt,
                                 minor=dict(tickmode="array", tickvals=minor_vals, ticks="outside",
                                            ticklen=2.5, tickwidth=0.8, tickcolor="black"))

# ---------------------------------------------------------------- annotations
ann = []


def text(x, y, s, size, angle=0, xanchor="center", yanchor="middle"):
    ann.append(dict(x=x, y=y, xref="paper", yref="paper", text=s, showarrow=False,
                    textangle=angle, xanchor=xanchor, yanchor=yanchor,
                    font=dict(family=FONT, size=size, color="black")))


text(pxx(378), pxy(14), "Model with gauge and matter", 21)
text(pxx(1032), pxy(14), "Model with only gauge qubits", 21)
SUBTITLES = ["All fluxes +1", "Superposition of all flux sectors", "All fluxes +1",
             "Random half-filled flux sectors"]
for c in range(4):
    cx = pxx((COLS[c][0] + COLS[c][1]) / 2)
    text(cx, pxy(51), SUBTITLES[c], 20)
    text(cx, pxy(738), "Cycles", 20)
    ix = pxx((INSETS[c][0] + INSETS[c][1]) / 2)
    text(ix, pxy(524), "L", 15)
text(pxx(45), pxy((TOP[0] + TOP[1]) / 2), "Entanglement entropy", 20, angle=-90)
text(pxx(20), pxy(541), "<i>χ</i> for fidelity 0.95 per site", 20, angle=-90)
CHI_LABEL_POS = [(104, 401), (421, 401), (747, 401), (1074, 450)]
for (px, py) in CHI_LABEL_POS:
    text(pxx(px), pxy(py), "<i>χ</i>", 16)

LEG = dict(bgcolor="rgba(255,255,255,0.8)", bordercolor="#cccccc", borderwidth=1,
           font=dict(family=FONT, size=13, color="black"), itemwidth=30, tracegroupgap=0)
fig.update_layout(
    width=W, height=H, margin=dict(l=0, r=0, t=0, b=0),
    paper_bgcolor="white", plot_bgcolor="white",
    font=dict(family=FONT, color="black"),
    annotations=ann,
    legend=dict(LEG, x=pxx(371), y=pxy(364), xanchor="right", yanchor="bottom"),
    legend2=dict(LEG, x=pxx(696), y=pxy(364), xanchor="right", yanchor="bottom"),
    legend3=dict(LEG, x=pxx(1348), y=pxy(73), xanchor="right", yanchor="top"),
    **layout,
)

fig.write_html("out.html")
